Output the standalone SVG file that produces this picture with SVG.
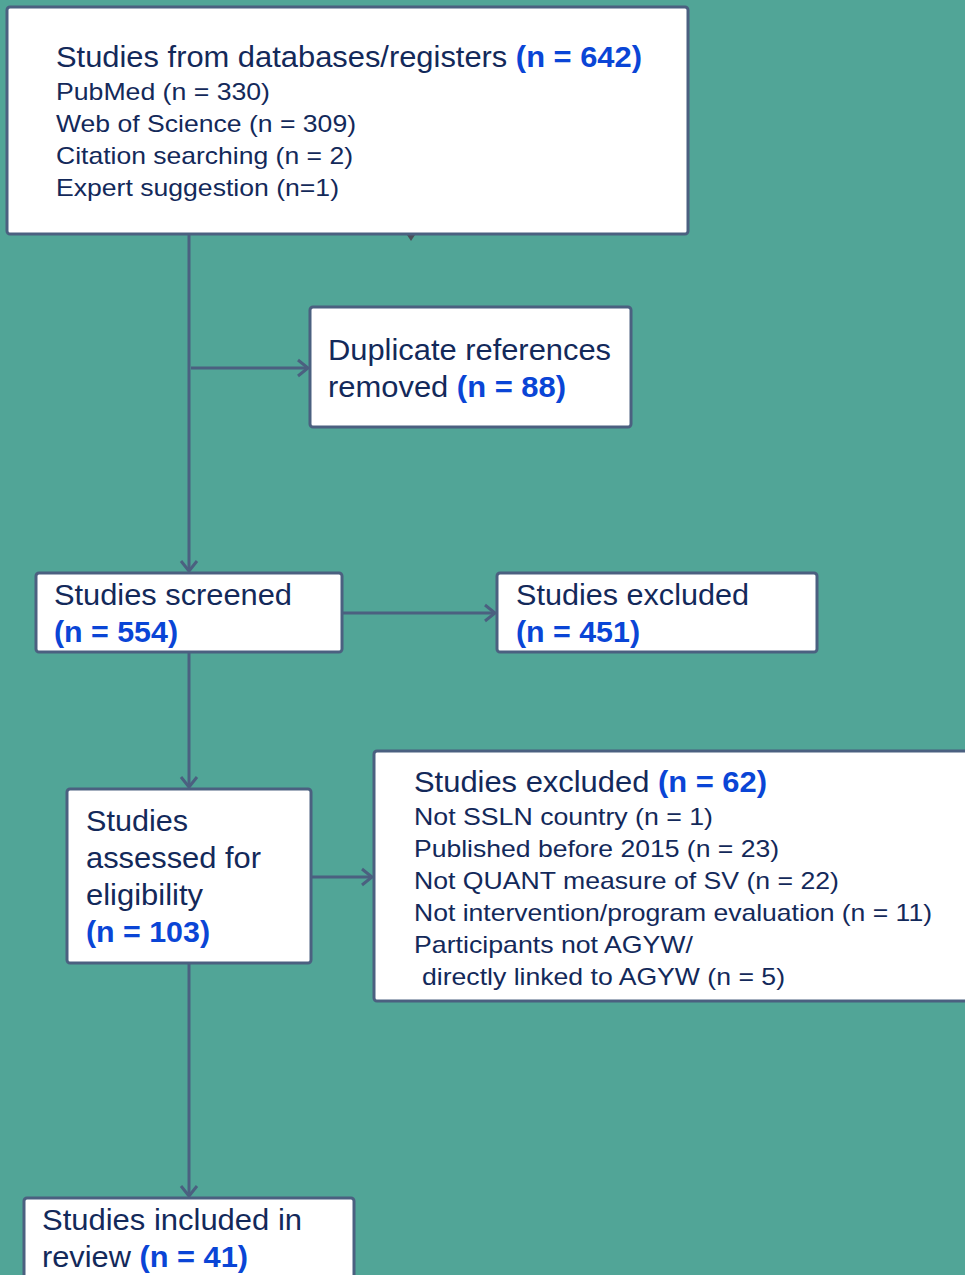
<svg xmlns="http://www.w3.org/2000/svg" width="965" height="1275" viewBox="0 0 965 1275">
<style>
.box{fill:#fff;stroke:#4b6080;stroke-width:3}
.t{font-family:"Liberation Sans",Arial,sans-serif;fill:#13295a}
.l{font-size:29px}
.s{font-size:24px}
.b{font-weight:bold;fill:#0a45d6}
.c{fill:none;stroke:#4b6080;stroke-width:3}
</style>
<defs>
<marker id="ah" markerWidth="16" markerHeight="20" refX="12" refY="10" orient="auto" markerUnits="userSpaceOnUse">
<path d="M2,2 L12,10 L2,18" fill="none" stroke="#4b6080" stroke-width="3"/>
</marker>
</defs>
<rect width="965" height="1275" fill="#51a597"/>
<g id="connectors">
<line class="c" x1="189" y1="234" x2="189" y2="571" marker-end="url(#ah)"/>
<line class="c" x1="191" y1="368" x2="308" y2="368" marker-end="url(#ah)"/>
<line class="c" x1="342" y1="613" x2="495" y2="613" marker-end="url(#ah)"/>
<line class="c" x1="189" y1="652" x2="189" y2="787" marker-end="url(#ah)"/>
<line class="c" x1="311" y1="877" x2="372" y2="877" marker-end="url(#ah)"/>
<line class="c" x1="189" y1="963" x2="189" y2="1196" marker-end="url(#ah)"/>
<polygon points="407,235 415,235 411,241" fill="#4a4f5a"/>
</g>
<g id="n1">
<rect class="box" x="7" y="7" width="681" height="227" rx="3"/>
<text class="t l" x="56" y="67" textLength="586" lengthAdjust="spacingAndGlyphs">Studies from databases/registers <tspan class="b">(n = 642)</tspan></text>
<text class="t s" x="56" y="100" textLength="214" lengthAdjust="spacingAndGlyphs">PubMed (n = 330)</text>
<text class="t s" x="56" y="132" textLength="300" lengthAdjust="spacingAndGlyphs">Web of Science (n = 309)</text>
<text class="t s" x="56" y="164" textLength="297" lengthAdjust="spacingAndGlyphs">Citation searching (n = 2)</text>
<text class="t s" x="56" y="196" textLength="283" lengthAdjust="spacingAndGlyphs">Expert suggestion (n=1)</text>
</g>
<g id="n2">
<rect class="box" x="310" y="307" width="321" height="120" rx="3"/>
<text class="t l" x="328" y="360" textLength="283" lengthAdjust="spacingAndGlyphs">Duplicate references</text>
<text class="t l" x="328" y="397" textLength="238" lengthAdjust="spacingAndGlyphs">removed <tspan class="b">(n = 88)</tspan></text>
</g>
<g id="n3">
<rect class="box" x="36" y="573" width="306" height="79" rx="3"/>
<text class="t l" x="54" y="605" textLength="238" lengthAdjust="spacingAndGlyphs">Studies screened</text>
<text class="t l b" x="54" y="642" textLength="124" lengthAdjust="spacingAndGlyphs">(n = 554)</text>
</g>
<g id="n4">
<rect class="box" x="497" y="573" width="320" height="79" rx="3"/>
<text class="t l" x="516" y="605" textLength="233" lengthAdjust="spacingAndGlyphs">Studies excluded</text>
<text class="t l b" x="516" y="642" textLength="124" lengthAdjust="spacingAndGlyphs">(n = 451)</text>
</g>
<g id="n5">
<rect class="box" x="67" y="789" width="244" height="174" rx="3"/>
<text class="t l" x="86" y="831" textLength="102" lengthAdjust="spacingAndGlyphs">Studies</text>
<text class="t l" x="86" y="868" textLength="175" lengthAdjust="spacingAndGlyphs">assessed for</text>
<text class="t l" x="86" y="905" textLength="117" lengthAdjust="spacingAndGlyphs">eligibility</text>
<text class="t l b" x="86" y="942" textLength="124" lengthAdjust="spacingAndGlyphs">(n = 103)</text>
</g>
<g id="n6">
<rect class="box" x="374" y="751" width="600" height="250" rx="3"/>
<text class="t l" x="414" y="792" textLength="353" lengthAdjust="spacingAndGlyphs">Studies excluded <tspan class="b">(n = 62)</tspan></text>
<text class="t s" x="414" y="825" textLength="299" lengthAdjust="spacingAndGlyphs">Not SSLN country (n = 1)</text>
<text class="t s" x="414" y="857" textLength="365" lengthAdjust="spacingAndGlyphs">Published before 2015 (n = 23)</text>
<text class="t s" x="414" y="889" textLength="425" lengthAdjust="spacingAndGlyphs">Not QUANT measure of SV (n = 22)</text>
<text class="t s" x="414" y="921" textLength="518" lengthAdjust="spacingAndGlyphs">Not intervention/program evaluation (n = 11)</text>
<text class="t s" x="414" y="953" textLength="279" lengthAdjust="spacingAndGlyphs">Participants not AGYW/</text>
<text class="t s" x="422" y="985" textLength="363" lengthAdjust="spacingAndGlyphs">directly linked to AGYW (n = 5)</text>
</g>
<g id="n7">
<rect class="box" x="24" y="1198" width="330" height="100" rx="3"/>
<text class="t l" x="42" y="1230" textLength="260" lengthAdjust="spacingAndGlyphs">Studies included in</text>
<text class="t l" x="42" y="1267" textLength="206" lengthAdjust="spacingAndGlyphs">review <tspan class="b">(n = 41)</tspan></text>
</g>
</svg>
